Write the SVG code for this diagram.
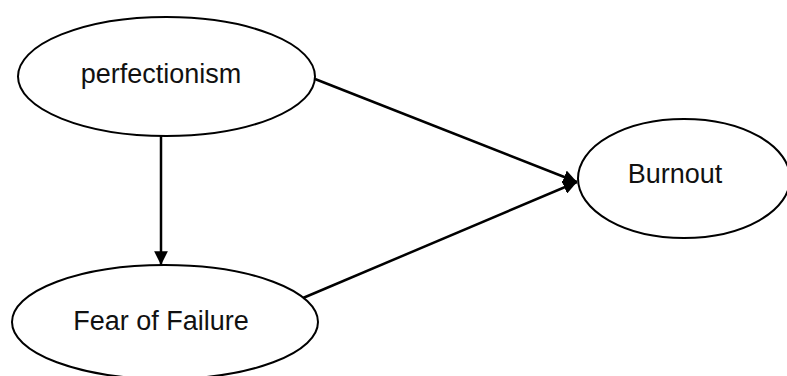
<svg xmlns="http://www.w3.org/2000/svg" width="787" height="376" viewBox="0 0 787 376">
<style>
.node ellipse{fill:#fff;stroke:#000;stroke-width:2}
.node text{font-family:"Liberation Sans",Arial,sans-serif;font-size:27px;fill:#111;text-anchor:middle}
.edge{stroke:#000;stroke-width:2.5;fill:none;marker-end:url(#arr)}
</style>
<defs>
<marker id="arr" viewBox="0 0 10 10" refX="10" refY="5" markerWidth="5.5" markerHeight="5.5" orient="auto" markerUnits="strokeWidth">
<path d="M0,0 L10,5 L0,10 Z" fill="#000"/>
</marker>
</defs>
<rect width="787" height="376" fill="#fff"/>
<g id="perfectionism" class="node">
<ellipse cx="166.5" cy="76.5" rx="148.5" ry="59.5"/>
<text x="161" y="83">perfectionism</text>
</g>
<g id="burnout" class="node">
<ellipse cx="684" cy="178.5" rx="106" ry="59.5"/>
<text x="675" y="183">Burnout</text>
</g>
<g id="fear" class="node">
<ellipse cx="165" cy="322" rx="153" ry="57"/>
<text x="161" y="330">Fear of Failure</text>
</g>
<g id="connectors">
<line class="edge" x1="161" y1="136" x2="161" y2="265"/>
<line class="edge" x1="315" y1="79" x2="577" y2="182"/>
<line class="edge" x1="303" y1="298" x2="577" y2="182"/>
</g>
</svg>
